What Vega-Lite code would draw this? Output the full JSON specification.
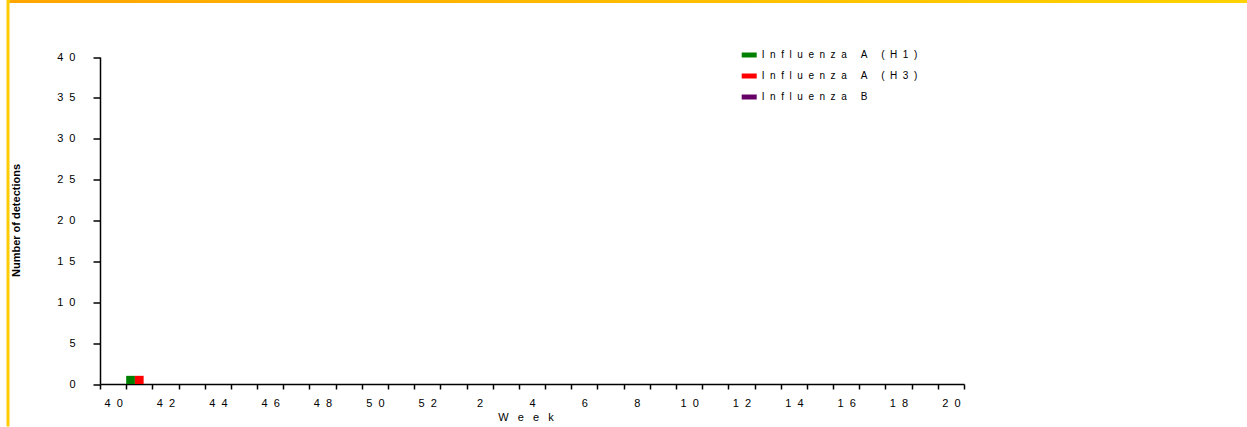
{
  "$schema": "https://vega.github.io/schema/vega-lite/v6.json",
  "width": 1239,
  "height": 425,
  "autosize": {"type": "none"},
  "padding": {"left": 8, "top": 1.5, "right": 0, "bottom": 0},
  "background": "white",
  "config": {
    "view": {
      "stroke": {"gradient": "linear", "x1": 0, "y1": 0, "x2": 1, "y2": 0,
        "stops": [
          {"offset": 0, "color": "#FFCC00"},
          {"offset": 0.0013, "color": "#FFCC00"},
          {"offset": 0.0014, "color": "#FFA500"},
          {"offset": 1, "color": "#FFD200"}
        ]},
      "strokeWidth": 3,
      "strokeDash": [1239, 1664, 425]
    },
    "font": "Liberation Sans",
    "axis": {
      "domainColor": "black", "tickColor": "black", "labelColor": "black", "titleColor": "black",
      "grid": false, "labelFont": "Liberation Sans", "titleFont": "Liberation Sans",
      "domainWidth": 1.5, "tickWidth": 1.5
    },
    "legend": {"labelFont": "Liberation Sans", "labelColor": "black"}
  },
  "data": {
    "values": [
      {"week": "40", "Influenza A (H1)": 0, "Influenza A (H3)": 0, "Influenza B": 0},
      {"week": "41", "Influenza A (H1)": 1, "Influenza A (H3)": 1, "Influenza B": 0},
      {"week": "42", "Influenza A (H1)": 0, "Influenza A (H3)": 0, "Influenza B": 0},
      {"week": "43", "Influenza A (H1)": 0, "Influenza A (H3)": 0, "Influenza B": 0},
      {"week": "44", "Influenza A (H1)": 0, "Influenza A (H3)": 0, "Influenza B": 0},
      {"week": "45", "Influenza A (H1)": 0, "Influenza A (H3)": 0, "Influenza B": 0},
      {"week": "46", "Influenza A (H1)": 0, "Influenza A (H3)": 0, "Influenza B": 0},
      {"week": "47", "Influenza A (H1)": 0, "Influenza A (H3)": 0, "Influenza B": 0},
      {"week": "48", "Influenza A (H1)": 0, "Influenza A (H3)": 0, "Influenza B": 0},
      {"week": "49", "Influenza A (H1)": 0, "Influenza A (H3)": 0, "Influenza B": 0},
      {"week": "50", "Influenza A (H1)": 0, "Influenza A (H3)": 0, "Influenza B": 0},
      {"week": "51", "Influenza A (H1)": 0, "Influenza A (H3)": 0, "Influenza B": 0},
      {"week": "52", "Influenza A (H1)": 0, "Influenza A (H3)": 0, "Influenza B": 0},
      {"week": "1", "Influenza A (H1)": 0, "Influenza A (H3)": 0, "Influenza B": 0},
      {"week": "2", "Influenza A (H1)": 0, "Influenza A (H3)": 0, "Influenza B": 0},
      {"week": "3", "Influenza A (H1)": 0, "Influenza A (H3)": 0, "Influenza B": 0},
      {"week": "4", "Influenza A (H1)": 0, "Influenza A (H3)": 0, "Influenza B": 0},
      {"week": "5", "Influenza A (H1)": 0, "Influenza A (H3)": 0, "Influenza B": 0},
      {"week": "6", "Influenza A (H1)": 0, "Influenza A (H3)": 0, "Influenza B": 0},
      {"week": "7", "Influenza A (H1)": 0, "Influenza A (H3)": 0, "Influenza B": 0},
      {"week": "8", "Influenza A (H1)": 0, "Influenza A (H3)": 0, "Influenza B": 0},
      {"week": "9", "Influenza A (H1)": 0, "Influenza A (H3)": 0, "Influenza B": 0},
      {"week": "10", "Influenza A (H1)": 0, "Influenza A (H3)": 0, "Influenza B": 0},
      {"week": "11", "Influenza A (H1)": 0, "Influenza A (H3)": 0, "Influenza B": 0},
      {"week": "12", "Influenza A (H1)": 0, "Influenza A (H3)": 0, "Influenza B": 0},
      {"week": "13", "Influenza A (H1)": 0, "Influenza A (H3)": 0, "Influenza B": 0},
      {"week": "14", "Influenza A (H1)": 0, "Influenza A (H3)": 0, "Influenza B": 0},
      {"week": "15", "Influenza A (H1)": 0, "Influenza A (H3)": 0, "Influenza B": 0},
      {"week": "16", "Influenza A (H1)": 0, "Influenza A (H3)": 0, "Influenza B": 0},
      {"week": "17", "Influenza A (H1)": 0, "Influenza A (H3)": 0, "Influenza B": 0},
      {"week": "18", "Influenza A (H1)": 0, "Influenza A (H3)": 0, "Influenza B": 0},
      {"week": "19", "Influenza A (H1)": 0, "Influenza A (H3)": 0, "Influenza B": 0},
      {"week": "20", "Influenza A (H1)": 0, "Influenza A (H3)": 0, "Influenza B": 0}
    ]
  },
  "transform": [
    {"fold": ["Influenza A (H1)", "Influenza A (H3)", "Influenza B"], "as": ["virus", "count"]}
  ],
  "mark": {"type": "bar"},
  "encoding": {
    "x": {
      "field": "week", "type": "nominal",
      "scale": {
        "domain": ["40","41","42","43","44","45","46","47","48","49","50","51","52","1","2","3","4","5","6","7","8","9","10","11","12","13","14","15","16","17","18","19","20"],
        "range": [92, 956], "paddingInner": 0, "paddingOuter": 0
      },
      "axis": {
        "orient": "bottom", "offset": -42.5,
        "tickBand": "extent", "tickSize": 5,
        "labelAngle": 0, "labelOverlap": false, "labelFontSize": 11, "labelPadding": 8, "labelDx": -2,
        "labelExpr": "parseInt(datum.value) % 2 == 0 ? join(split(datum.label, ''), '\u00a0\u00a0') + '\u00a0\u00a0\u00a0' : ''",
        "title": "W\u00a0\u00a0\u00a0e\u00a0\u00a0\u00a0e\u00a0\u00a0\u00a0k",
        "titleFontSize": 11, "titleFontWeight": "normal", "titlePadding": 3, "titleX": 517.5
      }
    },
    "xOffset": {
      "field": "virus", "type": "nominal",
      "scale": {"domain": ["Influenza A (H1)", "Influenza A (H3)", "Influenza B"], "paddingInner": 0, "paddingOuter": 0}
    },
    "y": {
      "field": "count", "type": "quantitative",
      "scale": {"domain": [0, 40], "range": [382.5, 55.5], "nice": false},
      "axis": {
        "orient": "left", "offset": -92,
        "values": [0, 5, 10, 15, 20, 25, 30, 35, 40],
        "tickSize": 7, "labelPadding": 18, "labelFontSize": 11,
        "labelExpr": "join(split(datum.label, ''), '\u00a0\u00a0')",
        "title": "Number of detections", "titleFontSize": 11, "titleFontWeight": "bold",
        "titleX": -84, "titleY": 218.5, "titleAngle": -90, "titleBaseline": "middle", "titleAlign": "center"
      }
    },
    "color": {
      "field": "virus", "type": "nominal",
      "scale": {"domain": ["Influenza A (H1)", "Influenza A (H3)", "Influenza B"], "range": ["#008000", "#FF0000", "#660066"]},
      "legend": {
        "orient": "none", "legendX": 733.7, "legendY": 46, "title": null, "padding": 0,
        "symbolType": "M-1,-0.333H1V0.333H-1Z", "symbolSize": 225, "symbolStrokeWidth": 0,
        "labelFontSize": 10, "labelOffset": 5, "rowPadding": 8,
        "labelExpr": "join(split(datum.label, ''), '\u00a0\u00a0')"
      }
    }
  }
}
